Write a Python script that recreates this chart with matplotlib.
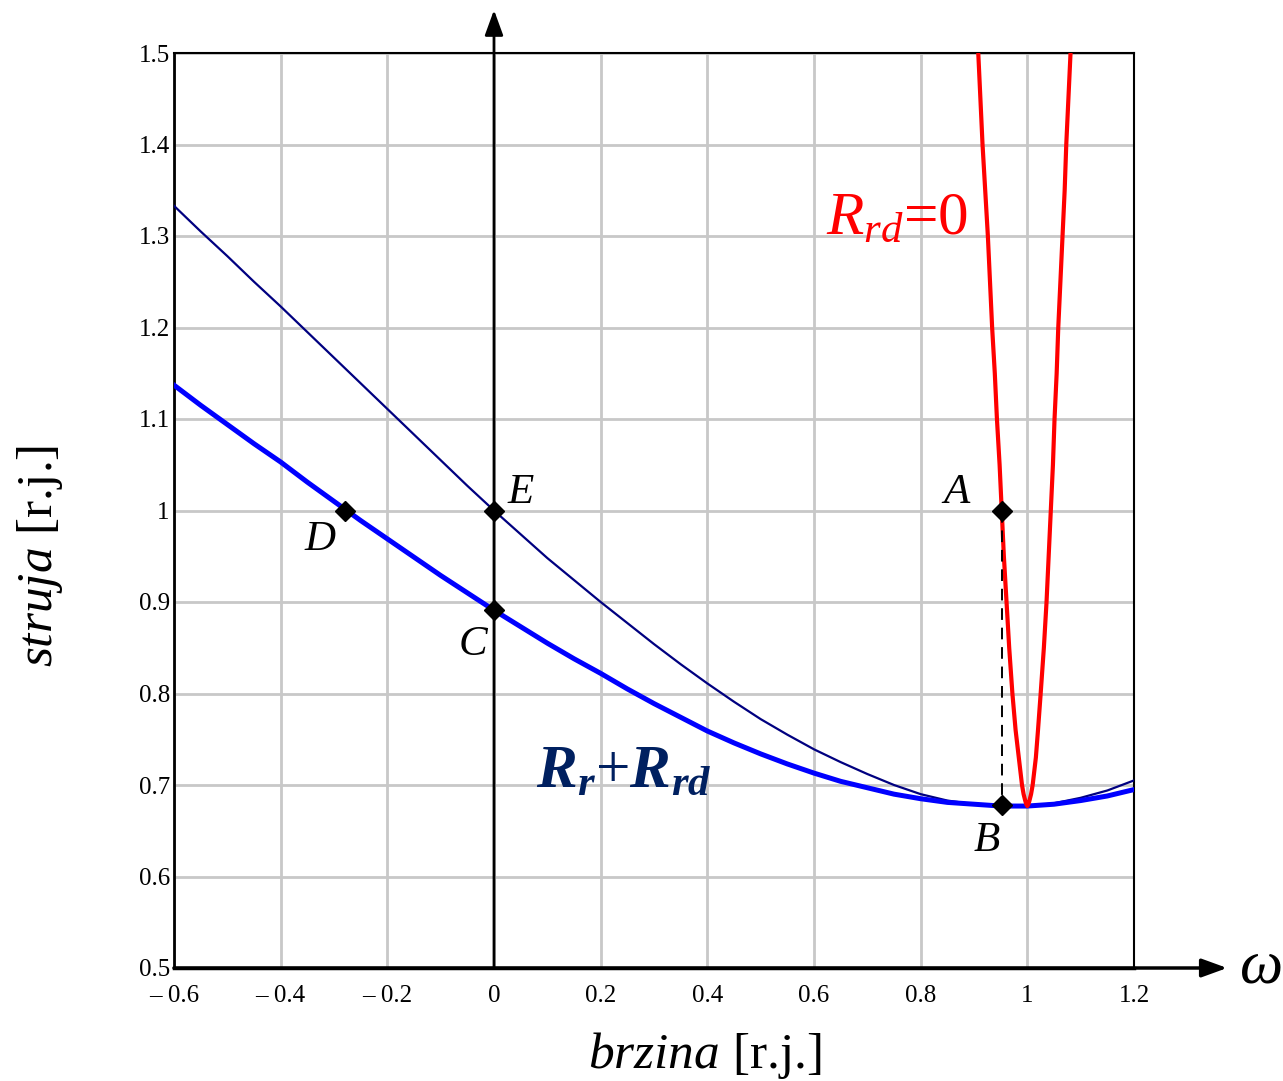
import numpy as np
import matplotlib
matplotlib.use('Agg')
import matplotlib.pyplot as plt

plt.rcParams['font.family'] = ['Liberation Serif', 'DejaVu Serif']
plt.rcParams['mathtext.fontset'] = 'custom'
plt.rcParams['mathtext.rm'] = 'Liberation Serif'
plt.rcParams['mathtext.it'] = 'Liberation Serif:italic'
plt.rcParams['mathtext.bf'] = 'Liberation Serif:bold:italic'

# Struja statora u ovisnosti o brzini (r.j.)
w_thin = [-0.6, -0.55, -0.5, -0.45, -0.4, -0.35, -0.3, -0.25, -0.2, -0.15,
          -0.1, -0.05, 0.0, 0.05, 0.1, 0.15, 0.2, 0.25, 0.3, 0.35, 0.4, 0.45,
          0.5, 0.55, 0.6, 0.65, 0.7, 0.75, 0.8, 0.85, 0.9, 0.95, 1.0, 1.05,
          1.1, 1.15, 1.2]
i_thin = [1.333, 1.305, 1.278, 1.250, 1.223, 1.195, 1.167, 1.139, 1.111, 1.083,
          1.055, 1.027, 1.000, 0.974, 0.948, 0.924, 0.900, 0.877, 0.854, 0.832,
          0.811, 0.791, 0.772, 0.755, 0.739, 0.725, 0.712, 0.700, 0.690, 0.683,
          0.679, 0.677, 0.677, 0.680, 0.686, 0.694, 0.705]

w_rrd = [-0.6, -0.55, -0.5, -0.45, -0.4, -0.35, -0.3, -0.25, -0.2, -0.15,
         -0.1, -0.05, 0.0, 0.05, 0.1, 0.15, 0.2, 0.25, 0.3, 0.35, 0.4, 0.45,
         0.5, 0.55, 0.6, 0.65, 0.7, 0.75, 0.8, 0.85, 0.9, 0.95, 1.0, 1.05,
         1.1, 1.15, 1.2]
i_rrd = [1.137, 1.115, 1.094, 1.073, 1.053, 1.031, 1.010, 0.989, 0.969, 0.949,
         0.929, 0.910, 0.891, 0.873, 0.855, 0.838, 0.822, 0.805, 0.789, 0.774,
         0.759, 0.746, 0.734, 0.723, 0.713, 0.704, 0.697, 0.690, 0.685, 0.681,
         0.679, 0.677, 0.677, 0.679, 0.683, 0.688, 0.695]

# Rrd = 0
w_red = [0.908, 0.912, 0.916, 0.921, 0.926, 0.930, 0.934, 0.939, 0.943, 0.948,
         0.952, 0.956, 0.961, 0.966, 0.972, 0.978, 0.984, 0.990, 0.993, 0.996,
         0.998, 1.000, 1.002, 1.004, 1.007, 1.010, 1.016, 1.020, 1.025, 1.031,
         1.036, 1.040, 1.044, 1.048, 1.051, 1.055, 1.058, 1.062, 1.066, 1.070,
         1.073, 1.077, 1.081]
i_red = [1.50, 1.45, 1.40, 1.35, 1.30, 1.25, 1.20, 1.15, 1.10, 1.05,
         1.00, 0.95, 0.90, 0.85, 0.80, 0.76, 0.73, 0.70, 0.69, 0.683,
         0.679, 0.677, 0.679, 0.683, 0.69, 0.70, 0.73, 0.76, 0.80, 0.85,
         0.90, 0.95, 1.00, 1.05, 1.10, 1.15, 1.20, 1.25, 1.30, 1.35,
         1.40, 1.45, 1.50]

# Radne tocke
pt_names = ['A', 'B', 'C', 'D', 'E']
pt_w = [0.952, 0.952, 0.0, -0.28, 0.0]
pt_i = [1.0, 0.678, 0.891, 1.0, 1.0]

xticks = [-0.6, -0.4, -0.2, 0.0, 0.2, 0.4, 0.6, 0.8, 1.0, 1.2]
xticklabels = ['– 0.6', '– 0.4', '– 0.2', '0', '0.2', '0.4', '0.6', '0.8', '1', '1.2']
yticks = [0.5, 0.6, 0.7, 0.8, 0.9, 1.0, 1.1, 1.2, 1.3, 1.4, 1.5]
yticklabels = ['0.5', '0.6', '0.7', '0.8', '0.9', '1', '1.1', '1.2', '1.3', '1.4', '1.5']

fig = plt.figure(figsize=(12.83, 10.81), dpi=100)
ax = fig.add_axes([174/1283, 1 - 968/1081, 960/1283, 915/1081])

ax.plot(w_thin, i_thin, color='#000080', lw=1.6, zorder=3)
ax.plot(w_rrd, i_rrd, color='#0000ff', lw=3.6, zorder=3,
        solid_joinstyle='round')
ax.plot(w_red, i_red, color='#ff0000', lw=3.0, zorder=4,
        solid_joinstyle='round')

# A-B isprekidano
ax.plot([pt_w[0], pt_w[1]], [pt_i[0], pt_i[1]], color='k', lw=1.4,
        dashes=(6, 4), zorder=5)
ax.plot(pt_w, pt_i, 'D', color='k', markersize=10, zorder=6)

lab_pos = {'A': (0.842, 1.008), 'B': (0.900, 0.628), 'C': (-0.066, 0.842),
           'D': (-0.356, 0.957), 'E': (0.026, 1.008)}
for n in pt_names:
    ax.text(lab_pos[n][0], lab_pos[n][1], n, fontsize=31, style='italic',
            va='baseline', ha='left', zorder=7)

ax.text(0.622, 1.303, r'$R_{rd}$=0', color='#ff0000', fontsize=44,
        va='baseline', ha='left')
ax.text(0.079, 0.698, r'$\mathbf{R}_{\mathbf{r}}$+$\mathbf{R}_{\mathbf{rd}}$',
        color='#002060', fontsize=44, va='baseline', ha='left')

ax.set_xlim(-0.6, 1.2)
ax.set_ylim(0.5, 1.5)
ax.set_xticks(xticks)
ax.set_xticklabels(xticklabels)
ax.set_yticks(yticks)
ax.set_yticklabels(yticklabels)
ax.tick_params(length=0, labelsize=18)
ax.tick_params(axis='x', pad=12)
ax.tick_params(axis='y', pad=3)
ax.grid(True, color='#c8c8c8', lw=2)
ax.set_axisbelow(True)

for s in ['top', 'right']:
    ax.spines[s].set_linewidth(1.5)
ax.spines['left'].set_linewidth(2)
ax.spines['bottom'].set_linewidth(2.5)

# Osi sa strelicama
arrow_style = '-|>,head_length=0.55,head_width=0.2'
ax.annotate('', xy=(0, 1.047), xytext=(0, 0), xycoords=ax.get_xaxis_transform(),
            textcoords=ax.get_xaxis_transform(), annotation_clip=False,
            arrowprops=dict(arrowstyle=arrow_style, color='k', lw=2,
                            mutation_scale=28, shrinkA=0, shrinkB=0))
ax.annotate('', xy=(1.097, 0), xytext=(0, 0), xycoords='axes fraction',
            annotation_clip=False,
            arrowprops=dict(arrowstyle=arrow_style, color='k', lw=2.5,
                            mutation_scale=28, shrinkA=0, shrinkB=0))
ax.text(1.131, 0.0, r'$\omega$', transform=ax.transAxes, fontsize=44,
        va='center', ha='center')

fig.text(705/1283, 1 - 1068/1081, r'$brzina$ [r.j.]', fontsize=37,
         ha='center', va='baseline')
fig.text(40/1283, 1 - 556/1081, r'$struja$ [r.j.]', fontsize=37,
         ha='center', va='center', rotation=90)

plt.savefig('out.png', dpi=100)
